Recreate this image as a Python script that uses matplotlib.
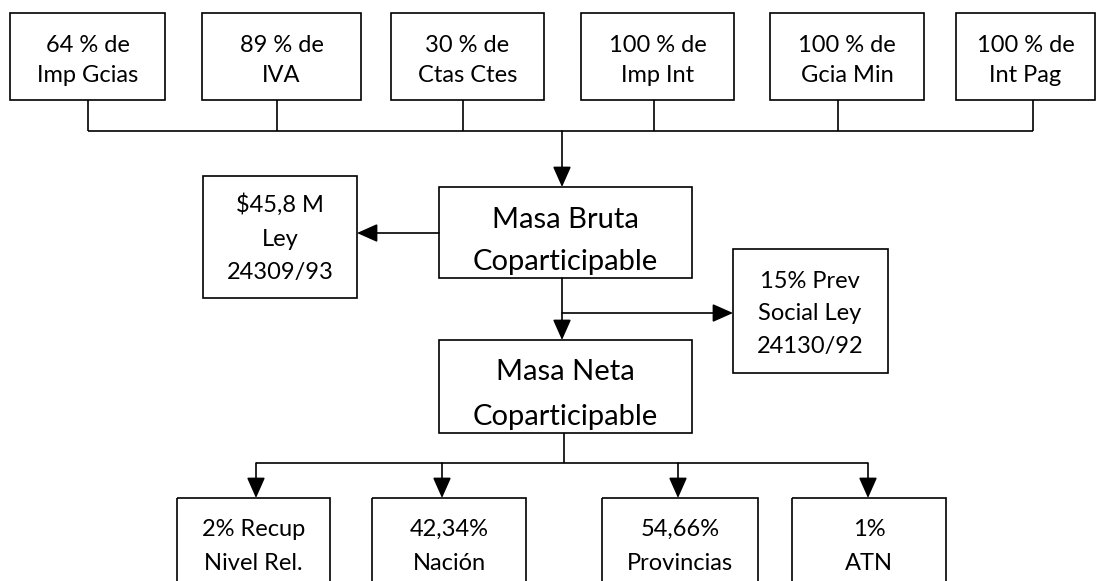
import matplotlib.pyplot as plt
from matplotlib.patches import Rectangle

# box texts
top_labels = ["64 % de\nImp Gcias", "89 % de\nIVA", "30 % de\nCtas Ctes",
              "100 % de\nImp Int", "100 % de\nGcia Min", "100 % de\nInt Pag"]
bruta_label = ["Masa Bruta", "Coparticipable"]
ley_label = ["$45,8 M", "Ley", "24309/93"]
prev_label = ["15% Prev", "Social Ley", "24130/92"]
neta_label = ["Masa Neta", "Coparticipable"]
bottom_labels = ["2% Recup\nNivel Rel.", "42,34%\nNación", "54,66%\nProvincias", "1%\nATN"]

# layout (pixel coords of the 1098x581 canvas)
top_x = [(10, 165), (202, 361), (391, 544), (581, 734), (770, 924), (956, 1095)]
top_stem = [88, 277, 463, 654, 838, 1033]
bottom_x = [(177, 330), (372, 526), (602, 758), (792, 946)]
bottom_arrow = [256, 442, 678, 868]

plt.rcParams['font.family'] = ['Lato', 'DejaVu Sans']
FS = 17
FS_BIG = 21
LW = 1.2

fig = plt.figure(figsize=(10.98, 5.81), dpi=100)
ax = fig.add_axes([0, 0, 1, 1])
ax.set_xlim(0, 1098)
ax.set_ylim(581, 0)
ax.axis('off')


def box(x0, x1, y0, y1):
    r = Rectangle((x0, y0), x1 - x0, y1 - y0, fill=False, lw=LW, ec='black')
    ax.add_patch(r)
    return r


def line(xs, ys):
    ax.plot(xs, ys, color='black', lw=LW, solid_capstyle='butt')


def arrow(x0, y0, x1, y1):
    ax.annotate('', xy=(x1, y1), xytext=(x0, y0),
                arrowprops=dict(arrowstyle='-|>,head_length=0.9,head_width=0.4',
                                color='black', lw=LW, shrinkA=0, shrinkB=0,
                                mutation_scale=14))


def lines_text(cx, ys, labels, size=FS, va='center', clip=None):
    for y, s in zip(ys, labels):
        t = ax.text(cx, y, s, ha='center', va=va, fontsize=size)
        if clip is not None:
            t.set_clip_path(clip)


# top row
for (x0, x1), lab, sx in zip(top_x, top_labels, top_stem):
    box(x0, x1, 13, 100)
    lines_text((x0 + x1) / 2, [45, 76], lab.split('\n'))
    line([sx, sx], [100, 131])
line([top_stem[0], top_stem[-1]], [131, 131])
arrow(562, 131, 562, 187)

# masa bruta
r = box(439, 692, 187, 278)
lines_text(565, [228, 270], bruta_label, size=FS_BIG, va='baseline', clip=r)
box(203, 357, 176, 298)
lines_text(280, [205, 239, 272], ley_label)
arrow(439, 233, 357, 233)

# prevision social branch
arrow(562, 278, 562, 340)
arrow(562, 313, 733, 313)
box(733, 888, 249, 373)
lines_text(810, [281, 314, 346], prev_label)

# masa neta
r = box(439, 692, 340, 433)
lines_text(565, [380, 425], neta_label, size=FS_BIG, va='baseline', clip=r)
line([564, 564], [433, 463])
line([bottom_arrow[0], bottom_arrow[-1]], [463, 463])

# bottom row
for (x0, x1), lab, ax_x in zip(bottom_x, bottom_labels, bottom_arrow):
    arrow(ax_x, 463, ax_x, 498)
    box(x0, x1, 498, 600)
    lines_text((x0 + x1) / 2, [529, 563], lab.split('\n'))

fig.savefig('out.png', dpi=100)
